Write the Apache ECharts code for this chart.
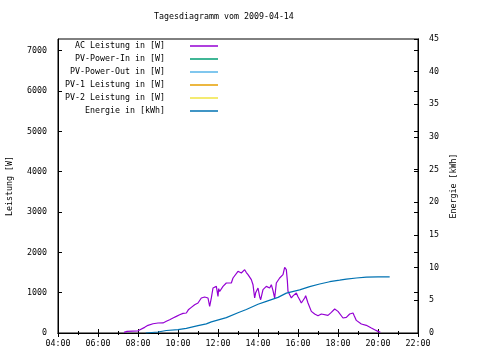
<!DOCTYPE html>
<html><head><meta charset="utf-8">
<script src="https://cdn.jsdelivr.net/npm/echarts@6/dist/echarts.min.js"></script>
<style>html,body{margin:0;padding:0;background:#fff}#c{width:480px;height:360px}</style>
</head><body><div id="c"></div>
<script>
const title = 'Tagesdiagramm vom 2009-04-14';
const seriesNames = ['AC Leistung in [W]', 'PV-Power-In in [W]', 'PV-Power-Out in [W]', 'PV-1 Leistung in [W]', 'PV-2 Leistung in [W]', 'Energie in [kWh]'];
const seriesColors = ['#9400D3', '#009E73', '#56B4E9', '#E69F00', '#F0E442', '#0072B2'];

const acTimes = ['07:18','07:27','08:00','08:05','08:20','08:30','08:45','09:00','09:15','09:25','09:35','09:45','09:55','10:05','10:15','10:25','10:31','10:40','10:50','11:00','11:10','11:20','11:30','11:35','11:40','11:45','11:50','11:55','12:00','12:02','12:05','12:15','12:20','12:25','12:30','12:40','12:45','12:50','13:00','13:10','13:20','13:25','13:30','13:35','13:40','13:45','13:50','13:53','14:00','14:05','14:08','14:15','14:20','14:25','14:35','14:40','14:45','14:50','14:55','15:00','15:05','15:10','15:15','15:20','15:25','15:28','15:30','15:40','15:45','15:50','15:55','16:00','16:05','16:10','16:20','16:23','16:30','16:35','16:40','16:50','17:00','17:10','17:15','17:30','17:40','17:50','17:55','18:00','18:05','18:15','18:25','18:35','18:45','18:48','18:55','19:10','19:25','19:40','19:50','20:00','20:07'];
const acWatts = [15,40,55,82,140,190,230,248,250,290,330,372,412,454,487,496,575,635,700,744,868,893,868,660,870,1116,1080,1156,908,1100,1030,1156,1160,1240,1200,1240,1364,1405,1529,1488,1570,1500,1447,1400,1322,1198,868,1000,1116,900,826,1074,1030,1157,1116,1198,1050,868,1240,1200,1364,1330,1447,1628,1570,1300,1033,868,920,909,992,900,826,744,868,925,744,700,536,471,429,471,496,437,512,595,636,536,500,372,387,471,496,440,313,223,190,124,82,41,15];

const energyTimes = ['08:23','09:00','09:25','10:00','10:25','11:00','11:25','11:40','12:25','13:00','13:25','14:00','14:25','15:00','15:25','16:05','16:35','17:05','17:35','18:05','18:25','18:55','19:25','20:00','20:35'];
const energyKWh = [0.0,0.15,0.38,0.52,0.72,1.12,1.4,1.7,2.35,3.1,3.6,4.4,4.85,5.45,6.1,6.6,7.1,7.5,7.85,8.08,8.25,8.42,8.55,8.6,8.6];

const toH = t => { const [h, m] = t.split(':').map(Number); return h + m / 60; };
const pair = (ts, vs) => ts.map((t, i) => [toH(t), vs[i]]);

const FONT = 'DejaVu Sans Mono';
const FS = 8.3;
const txt = { fontFamily: FONT, fontSize: FS, color: '#000' };
const pad2 = n => (n < 10 ? '0' : '') + n;

const legendTops = [42, 55, 68, 81, 94, 107];
const legends = seriesNames.map((n, i) => ({
  data: [n], orient: 'vertical', right: 262, top: legendTops[i], align: 'right', padding: 0,
  icon: 'rect', itemWidth: 28, itemHeight: 1.5, selectedMode: false,
  formatter: name => name + '    ', textStyle: txt
}));

const dataSeries = [pair(acTimes, acWatts), [], [], [], [], pair(energyTimes, energyKWh)];

const axisLine = { show: true, lineStyle: { color: '#000', width: 1 } };
const tick = { show: true, inside: true, length: 4, lineStyle: { color: '#000' } };
const option = {
  animation: false,
  backgroundColor: '#fff',
  title: { text: title, left: 154, top: 13, padding: 0, textStyle: Object.assign({ fontWeight: 'normal' }, txt) },
  legend: legends,
  grid: { left: 58, right: 62, top: 39, bottom: 27, show: true, borderColor: '#000', borderWidth: 1,
          containLabel: false, outerBoundsMode: 'none' },
  xAxis: [
    { type: 'value', min: 4, max: 22, interval: 2, position: 'bottom', axisLine, axisTick: tick,
      minorTick: { show: true, splitNumber: 2, length: 2, lineStyle: { color: '#000' } },
      splitLine: { show: false },
      axisLabel: Object.assign({ margin: 7, formatter: v => pad2(Math.round(v)) + ':00' }, txt) },
    { type: 'value', min: 4, max: 22, interval: 2, position: 'top', axisLine, axisTick: tick,
      minorTick: { show: true, splitNumber: 2, length: 2, lineStyle: { color: '#000' } },
      splitLine: { show: false }, axisLabel: { show: false } }
  ],
  yAxis: [
    { type: 'value', min: 0, max: 7290, interval: 1000, position: 'left', axisLine, axisTick: tick,
      splitLine: { show: false },
      axisLabel: Object.assign({ margin: 11, showMaxLabel: false, formatter: v => String(v) }, txt),
      name: 'Leistung [W]', nameLocation: 'middle', nameGap: 44, nameRotate: 90, nameTextStyle: txt },
    { type: 'value', min: 0, max: 45, interval: 5, position: 'right', axisLine, axisTick: tick,
      splitLine: { show: false },
      axisLabel: Object.assign({ margin: 11, formatter: v => String(v) }, txt),
      name: 'Energie [kWh]', nameLocation: 'middle', nameGap: 32, nameRotate: 90, nameTextStyle: txt },
    { type: 'value', min: 0, max: 7290, interval: 1000, position: 'right', axisLine, axisTick: tick,
      splitLine: { show: false }, axisLabel: { show: false } }
  ],
  series: seriesNames.map((n, i) => ({
    name: n, type: 'line', yAxisIndex: i === 5 ? 1 : 0, xAxisIndex: 0,
    data: dataSeries[i], showSymbol: false, symbol: 'none',
    color: seriesColors[i], lineStyle: { width: 1.2, color: seriesColors[i] }, itemStyle: { color: seriesColors[i] }
  }))
};
const chart = echarts.init(document.getElementById('c'), null, { renderer: 'canvas' });
chart.setOption(option);
</script></body></html>
